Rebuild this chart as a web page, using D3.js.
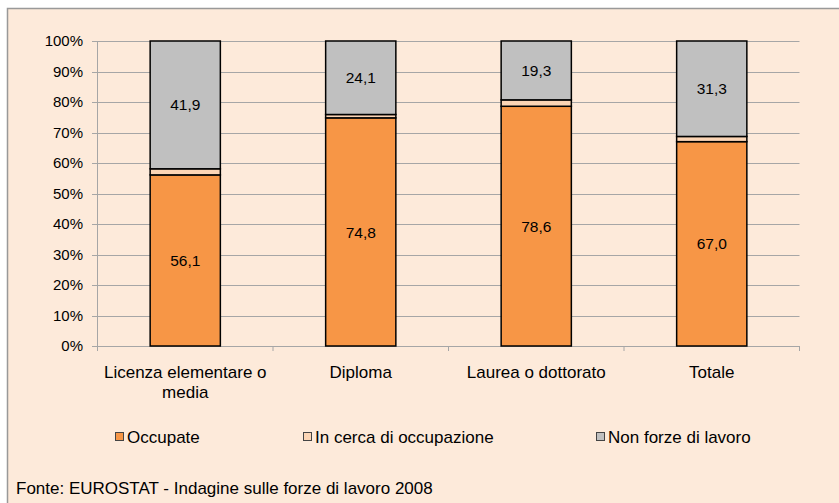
<!DOCTYPE html>
<html>
<head>
<meta charset="utf-8">
<script src="https://cdn.jsdelivr.net/npm/d3@7"></script>
<style>
  body { margin: 0; background: #fff; }
  svg text { font-family: "Liberation Sans", Arial, sans-serif; fill: #000; }
</style>
</head>
<body>
<div id="chart"></div>
<script>
  let categories = [["Licenza elementare o", "media"], ["Diploma"], ["Laurea o dottorato"], ["Totale"]];
  let seriesNames = ["Occupate", "In cerca di occupazione", "Non forze di lavoro"];
  let occupate = [56.1, 74.8, 78.6, 67.0];
  let inCerca = [2.0, 1.1, 2.1, 1.7];
  let nonForze = [41.9, 24.1, 19.3, 31.3];
  let yTicks = [0, 10, 20, 30, 40, 50, 60, 70, 80, 90, 100];
  let colors = ["#F79646", "#FCD5B5", "#C0C0C0"];

  let width = 839, height = 503;

  let svg = d3.select("#chart")
    .append("svg")
    .attr("width", width)
    .attr("height", height);

  // chart area
  svg.append("rect")
    .attr("x", 7.5)
    .attr("y", 8.5)
    .attr("width", width)
    .attr("height", height)
    .attr("fill", "#FDEADA")
    .attr("stroke", "#999")
    .attr("stroke-width", 1.5);

  let x = d3.scaleBand()
    .domain(d3.range(categories.length))
    .range([97.5, 799.5])
    .paddingInner(0)
    .paddingOuter(0);

  let y = d3.scaleLinear()
    .domain([0, 100])
    .range([346, 41]);

  // gridlines
  svg.append("g")
    .selectAll("line")
    .data(yTicks)
    .enter()
    .append("line")
    .attr("x1", 92)
    .attr("x2", 799.5)
    .attr("y1", d => Math.round(y(d)) + 0.5)
    .attr("y2", d => Math.round(y(d)) + 0.5)
    .attr("stroke", "#A6A6A6")
    .attr("stroke-width", 1);

  // y labels
  svg.append("g")
    .selectAll("text")
    .data(yTicks)
    .enter()
    .append("text")
    .attr("x", 83)
    .attr("y", d => y(d))
    .attr("dy", "0.36em")
    .attr("text-anchor", "end")
    .attr("font-size", "15px")
    .text(d => d + "%");

  // axis lines
  svg.append("line")
    .attr("x1", 97.5).attr("x2", 97.5)
    .attr("y1", y(100)).attr("y2", 351)
    .attr("stroke", "#A6A6A6");

  svg.append("g")
    .selectAll("line")
    .data(d3.range(categories.length + 1))
    .enter()
    .append("line")
    .attr("x1", d => d < categories.length ? x(d) : x.range()[1])
    .attr("x2", d => d < categories.length ? x(d) : x.range()[1])
    .attr("y1", 346)
    .attr("y2", 351)
    .attr("stroke", "#A6A6A6");

  // stacked bars
  let rows = categories.map((c, i) => ({ i: i, o: occupate[i], c: inCerca[i], n: nonForze[i] }));
  let stack = d3.stack().keys(["o", "c", "n"])(rows);

  let barW = x.bandwidth() * 0.4;

  let layer = svg.append("g")
    .selectAll("g")
    .data(stack)
    .enter()
    .append("g")
    .attr("fill", (d, i) => colors[i]);

  layer.selectAll("rect")
    .data(d => d)
    .enter()
    .append("rect")
    .attr("x", d => x(d.data.i) + (x.bandwidth() - barW) / 2)
    .attr("y", d => y(d[1]))
    .attr("width", barW)
    .attr("height", d => y(d[0]) - y(d[1]))
    .attr("stroke", "#000")
    .attr("stroke-width", 1.5);

  // value labels (occupate and non forze)
  [0, 2].forEach(k => {
    svg.append("g")
      .selectAll("text")
      .data(stack[k])
      .enter()
      .append("text")
      .attr("x", d => x(d.data.i) + x.bandwidth() / 2)
      .attr("y", d => y((d[0] + d[1]) / 2))
      .attr("dy", "0.36em")
      .attr("text-anchor", "middle")
      .attr("font-size", "15.5px")
      .text(d => (d[1] - d[0]).toFixed(1).replace(".", ","));
  });

  // category labels
  let cat = svg.append("g")
    .selectAll("text")
    .data(categories)
    .enter()
    .append("text")
    .attr("x", (d, i) => x(i) + x.bandwidth() / 2)
    .attr("y", 378)
    .attr("text-anchor", "middle")
    .attr("font-size", "17px");

  cat.selectAll("tspan")
    .data(d => d)
    .enter()
    .append("tspan")
    .attr("x", function() { return d3.select(this.parentNode).attr("x"); })
    .attr("dy", (d, i) => i === 0 ? 0 : 20)
    .text(d => d);

  // legend
  let legendX = [115, 303, 596];
  let legend = svg.append("g")
    .selectAll("g")
    .data(seriesNames)
    .enter()
    .append("g")
    .attr("transform", (d, i) => "translate(" + legendX[i] + ",437)");

  legend.append("rect")
    .attr("x", 0.5)
    .attr("y", -4.5)
    .attr("width", 8)
    .attr("height", 8)
    .attr("fill", (d, i) => colors[i])
    .attr("stroke", "#444");

  legend.append("text")
    .attr("x", 12)
    .attr("y", 0)
    .attr("dy", "0.36em")
    .attr("font-size", "17px")
    .text(d => d);

  // source
  svg.append("text")
    .attr("x", 16)
    .attr("y", 488)
    .attr("dy", "0.36em")
    .attr("font-size", "17px")
    .text("Fonte: EUROSTAT - Indagine sulle forze di lavoro 2008");
</script>
</body>
</html>
